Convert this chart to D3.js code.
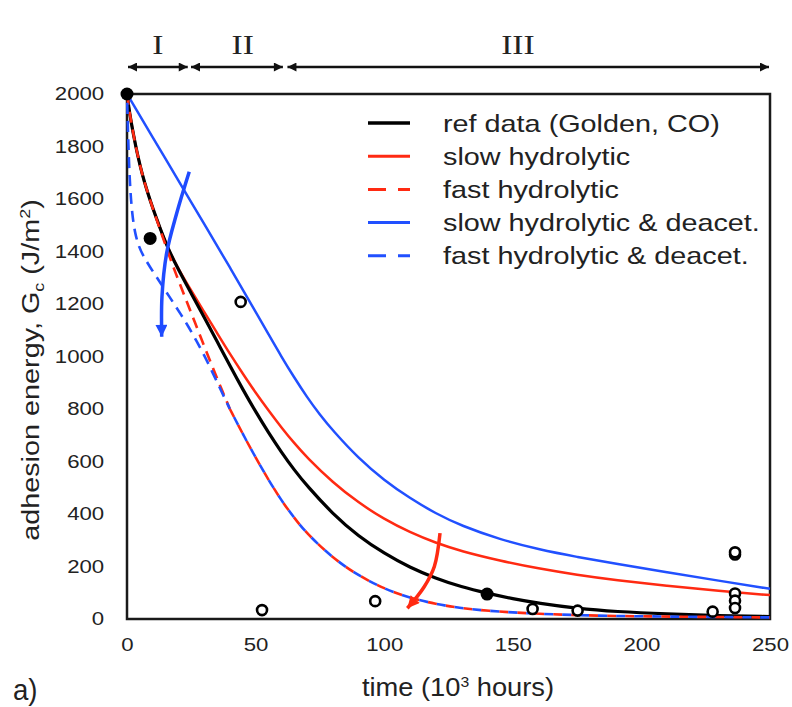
<!DOCTYPE html>
<html>
<head>
<meta charset="utf-8">
<script src="https://cdn.jsdelivr.net/npm/d3@7"></script>
<style>
  body { margin: 0; background: #fff; }
  text { font-family: Arial, 'Liberation Sans', sans-serif; fill: #222; }
</style>
</head>
<body>
<div id="chart"></div>
<script>
// curves: [time (10^3 h), Gc (J/m^2)]
const refData = [[0, 2000], [1, 1928], [2.5, 1845], [4, 1772], [6, 1690], [8, 1625], [10, 1565],
  [13, 1485], [16, 1410], [20, 1330], [25, 1240], [30, 1150], [35, 1058], [40, 965], [45, 875],
  [50, 790], [55, 710], [60, 636], [65, 568], [70, 507], [80, 400], [90, 315], [100, 250],
  [110, 196], [120, 155], [130, 122], [140, 98], [150, 77], [160, 60], [175, 40], [190, 28],
  [210, 19], [230, 13], [250, 9]];
const slowHydro = [[0, 2000], [1, 1928], [2.5, 1845], [4, 1772], [6, 1690], [8, 1625], [10, 1565],
  [13, 1485], [16, 1410], [20, 1333], [25, 1250], [30, 1170], [35, 1090], [40, 1010], [45, 935],
  [50, 862], [55, 795], [60, 730], [65, 670], [70, 615], [80, 520], [90, 443], [100, 380],
  [110, 330], [120, 290], [130, 258], [145, 222], [160, 192], [175, 168], [190, 148], [210, 126],
  [230, 107], [250, 91]];
const fastHydro = [[0, 2000], [1, 1928], [2.5, 1845], [4, 1772], [6, 1690], [8, 1625], [10, 1565],
  [13, 1480], [16, 1395], [19, 1315], [22, 1240], [25, 1165], [28, 1090], [31, 1015], [34, 942],
  [37, 870], [40, 800], [45, 705], [50, 615], [55, 530], [60, 452], [65, 385], [70, 325], [80, 232],
  [90, 165], [100, 115], [110, 80], [120, 57], [130, 41], [140, 31], [155, 22], [175, 14],
  [200, 10], [225, 8], [250, 6]];
const slowDeacet = [[0, 2000], [10, 1835], [20, 1670], [30, 1505], [40, 1340], [50, 1170],
  [55, 1085], [60, 1000], [65, 920], [70, 845], [75, 778], [80, 718], [90, 612], [100, 528],
  [110, 460], [120, 402], [130, 355], [145, 303], [160, 265], [175, 236], [190, 211], [210, 178],
  [230, 146], [250, 115]];
const fastDeacet = [[0, 2000], [0.4, 1850], [0.8, 1730], [1.3, 1630], [2, 1545], [3, 1475],
  [4.5, 1420], [6.5, 1380], [9, 1340], [12, 1295], [15, 1250], [18, 1205], [21, 1160], [24, 1112],
  [27, 1060], [30, 1005], [33, 945], [36, 882], [40, 800], [45, 705], [50, 615], [55, 530],
  [60, 452], [65, 385], [70, 325], [80, 232], [90, 165], [100, 115], [110, 80], [120, 57],
  [130, 41], [140, 31], [155, 22], [175, 14], [200, 10], [225, 8], [250, 6]];
const mergeT = 40; // both fast curves coincide after this time

// measured data
const filledPts = [[0, 2000], [9, 1450], [140, 95]];
const openPts = [[44.2, 1208], [52.5, 34], [96.5, 68], [157.7, 38], [175.2, 32], [227.7, 28],
  [236.4, 246], [236.4, 254], [236.4, 97], [236.4, 70], [236.4, 42]];

const xTicks = [0, 50, 100, 150, 200, 250];
const yTicks = [0, 200, 400, 600, 800, 1000, 1200, 1400, 1600, 1800, 2000];

const regions = [[0, 24], [24.5, 61], [62, 250]];
const regionNames = ['I', 'II', 'III'];
const regionLabelT = [12, 45, 152];

const legendNames = ['ref data (Golden, CO)', 'slow hydrolytic', 'fast hydrolytic',
  'slow hydrolytic & deacet.', 'fast hydrolytic & deacet.'];

// annotation arrows, in data units
const blueArrow = [[24.2, 1704], [19.3, 1545], [15.4, 1393], [13.6, 1228], [13.5, 1075]];
const redArrow = [[121.7, 327], [119.5, 200], [115.5, 122], [109, 41]];

const W = 792, H = 707;
const SX = 1.2; // text in the figure is drawn wide
const RED = '#ff2a12';
const BLUE = '#2150ff';

const svg = d3.select('#chart').append('svg')
  .attr('width', W)
  .attr('height', H);

const x = d3.scaleLinear().domain([0, 250]).range([127, 770]);
const y = d3.scaleLinear().domain([0, 2000]).range([619, 94]);

const defs = svg.append('defs');
function addMarker(id, color, w, h) {
  defs.append('marker')
    .attr('id', id)
    .attr('viewBox', '0 0 10 10')
    .attr('refX', 10)
    .attr('refY', 5)
    .attr('markerUnits', 'userSpaceOnUse')
    .attr('markerWidth', w)
    .attr('markerHeight', h)
    .attr('orient', 'auto-start-reverse')
    .append('path')
    .attr('d', 'M0,0 L10,5 L0,10 z')
    .attr('fill', color);
}
addMarker('head-black', '#111', 11, 9);
addMarker('head-blue', '#1f4bff', 13, 12);
addMarker('head-red', RED, 13, 12);

// frame
svg.append('rect')
  .attr('x', x(0))
  .attr('y', y(2000))
  .attr('width', x(250) - x(0))
  .attr('height', y(0) - y(2000))
  .attr('fill', 'none')
  .attr('stroke', '#1a1a1a')
  .attr('stroke-width', 2.5);

// axes
const yAxis = svg.append('g')
  .attr('transform', `translate(${x(0)},0)`)
  .call(d3.axisLeft(y).tickValues(yTicks).tickFormat(d3.format('d')).tickSize(0).tickPadding(19));
const xAxis = svg.append('g')
  .attr('transform', `translate(0,${y(0)})`)
  .call(d3.axisBottom(x).tickValues(xTicks).tickFormat(d3.format('d')).tickSize(0).tickPadding(19));
[yAxis, xAxis].forEach((a) => {
  a.select('.domain').remove();
  a.selectAll('text')
    .attr('fill', '#222')
    .style('font-size', '18.5px')
    .style('font-family', 'Arial, \'Liberation Sans\', sans-serif')
    .attr('transform', `scale(${SX},1)`);
});

// curves
const line = d3.line()
  .x(d => x(d[0]))
  .y(d => y(d[1]))
  .curve(d3.curveBasis);

const curves = svg.append('g').attr('fill', 'none');
curves.append('path').attr('d', line(slowDeacet)).attr('stroke', BLUE).attr('stroke-width', 2.5);
curves.append('path').attr('d', line(slowHydro)).attr('stroke', RED).attr('stroke-width', 2.5);
curves.append('path').attr('d', line(refData)).attr('stroke', '#000').attr('stroke-width', 3.2);

// fast curves: separate heads, shared tail drawn with alternating dashes
const head = s => s.filter(d => d[0] <= mergeT);
const tail = s => s.filter(d => d[0] >= mergeT);
curves.append('path').attr('d', line(head(fastHydro))).attr('stroke', RED).attr('stroke-width', 2.6)
  .attr('stroke-dasharray', '11,7');
curves.append('path').attr('d', line(head(fastDeacet))).attr('stroke', BLUE).attr('stroke-width', 2.6)
  .attr('stroke-dasharray', '11,7')
  .attr('stroke-dashoffset', 9);
curves.append('path').attr('d', line(tail(fastHydro))).attr('stroke', RED).attr('stroke-width', 2.6)
  .attr('stroke-dasharray', '9,9');
curves.append('path').attr('d', line(tail(fastDeacet))).attr('stroke', BLUE).attr('stroke-width', 2.6)
  .attr('stroke-dasharray', '9,9')
  .attr('stroke-dashoffset', 9);

// data points
svg.append('g').selectAll('circle')
  .data(openPts)
  .join('circle')
  .attr('cx', d => x(d[0]))
  .attr('cy', d => y(d[1]))
  .attr('r', 5)
  .attr('fill', '#fff')
  .attr('stroke', '#000')
  .attr('stroke-width', 2.6);
svg.append('g').selectAll('circle')
  .data(filledPts)
  .join('circle')
  .attr('cx', d => x(d[0]))
  .attr('cy', d => y(d[1]))
  .attr('r', 6.5)
  .attr('fill', '#000');

// curved arrows
const arrowLine = d3.line()
  .x(d => x(d[0]))
  .y(d => y(d[1]))
  .curve(d3.curveCatmullRom);
svg.append('path')
  .attr('d', arrowLine(blueArrow))
  .attr('fill', 'none')
  .attr('stroke', '#1f4bff')
  .attr('stroke-width', 3.5)
  .attr('marker-end', 'url(#head-blue)');
svg.append('path')
  .attr('d', arrowLine(redArrow))
  .attr('fill', 'none')
  .attr('stroke', RED)
  .attr('stroke-width', 3.5)
  .attr('marker-end', 'url(#head-red)');

// regions I, II, III
const reg = svg.append('g');
regions.forEach((r, i) => {
  reg.append('line')
    .attr('x1', x(r[0]) + 1)
    .attr('x2', x(r[1]) - 1)
    .attr('y1', 67)
    .attr('y2', 67)
    .attr('stroke', '#111')
    .attr('stroke-width', 2.5)
    .attr('marker-start', 'url(#head-black)')
    .attr('marker-end', 'url(#head-black)');
  reg.append('g')
    .attr('transform', `translate(${x(regionLabelT[i])},54)`)
    .append('text')
    .attr('text-anchor', 'middle')
    .attr('transform', `scale(${SX},1)`)
    .style('font-family', '\'Liberation Serif\', \'Times New Roman\', serif')
    .style('font-size', '28px')
    .text(regionNames[i]);
});

// legend
const legendColors = ['#000', RED, RED, BLUE, BLUE];
const legendDash = [null, null, '18,12', null, '18,12'];
const legend = svg.append('g');
legendNames.forEach((name, i) => {
  const ly = 123 + i * 33.2;
  legend.append('line')
    .attr('x1', 368)
    .attr('x2', 410)
    .attr('y1', ly)
    .attr('y2', ly)
    .attr('stroke', legendColors[i])
    .attr('stroke-width', i === 0 ? 3.5 : 3)
    .attr('stroke-dasharray', legendDash[i]);
  legend.append('g')
    .attr('transform', `translate(443,${ly + 8.5})`)
    .append('text')
    .attr('transform', `scale(${SX},1)`)
    .style('font-size', '24px')
    .text(name);
});

// axis titles
const xt = svg.append('g')
  .attr('transform', 'translate(458,696)')
  .append('text')
  .attr('text-anchor', 'middle')
  .attr('transform', 'scale(1.05,1)')
  .style('font-size', '26px');
xt.append('tspan').text('time (10');
xt.append('tspan').attr('dy', -9).style('font-size', '15px').text('3');
xt.append('tspan').attr('dy', 9).text(' hours)');

const yt = svg.append('g')
  .attr('transform', 'translate(31,370) rotate(-90)')
  .append('text')
  .attr('text-anchor', 'middle')
  .attr('dy', '0.35em')
  .attr('transform', `scale(${SX},1)`)
  .style('font-size', '24px');
yt.append('tspan').text('adhesion energy, G');
yt.append('tspan').attr('dy', 5).style('font-size', '15px').text('c');
yt.append('tspan').attr('dy', -5).text(' (J/m');
yt.append('tspan').attr('dy', -9).style('font-size', '15px').text('2');
yt.append('tspan').attr('dy', 9).text(')');

svg.append('g')
  .attr('transform', 'translate(13,700)')
  .append('text')
  .attr('transform', 'scale(0.92,1)')
  .style('font-size', '30px')
  .text('a)');
</script>
</body>
</html>
